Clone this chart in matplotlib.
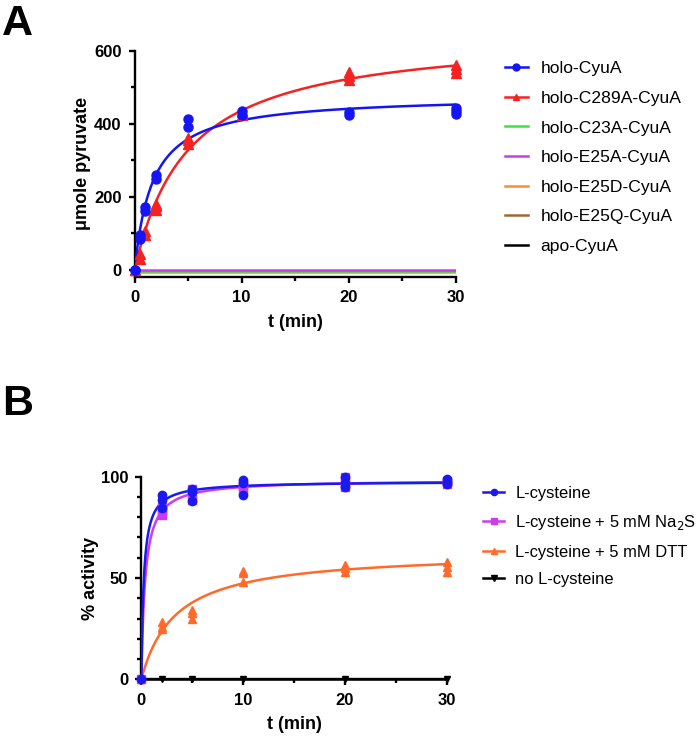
import numpy as np
import matplotlib
matplotlib.use("Agg")
import matplotlib.pyplot as plt

plt.rcParams['font.family'] = ['Liberation Sans', 'DejaVu Sans']

# ---- panel A data (umole pyruvate vs t) ----
t_a = [0, 0.5, 1, 2, 5, 10, 20, 30]
holo_cyua = [[0, 0], [84, 96], [160, 172], [248, 260], [392, 412],
             [424, 436], [424, 432], [428, 436, 442]]
holo_c289a = [[0, 0], [30, 42], [96, 106], [165, 175, 180], [345, 355, 360],
              [425, 432], [520, 530, 542], [538, 550, 560]]
flat_names = ['holo-C23A-CyuA', 'holo-E25A-CyuA', 'holo-E25D-CyuA',
              'holo-E25Q-CyuA', 'apo-CyuA']
flat_levels = [-3.5, 0, -6.5, -3.5, -3.5]
flat_colors = ['#3ee23e', '#c83cf0', '#ff8a30', '#9a6a30', '#000000']

# ---- panel B data (% activity vs t) ----
t_b = [0, 2, 5, 10, 20, 30]
lcys = [[0], [91, 88.5, 84.5], [93.7, 92.6, 88], [98.4, 97, 91],
        [100, 96.7, 94.7], [98.7, 97.5, 96.4]]
lcys_na2s = [[0], [85, 81, 83], [93.7, 88.5, 91], [96, 93.4, 95],
             [99.7, 94.7, 97], [98, 96.4, 97.5]]
lcys_dtt = [[0], [28.5, 26, 24.7], [34.2, 32.6, 30], [53.6, 52.3, 48.2],
            [56.4, 54.8, 53.1], [58, 55.6, 53]]
no_lcys = [[0], [0], [0], [0], [0], [0]]


def flatten(t, reps):
    xs, ys = [], []
    for ti, r in zip(t, reps):
        for v in r:
            xs.append(ti)
            ys.append(v)
    return np.array(xs, float), np.array(ys, float)


def hyperbola_fit(xs, ys):
    # y = ymax * t / (k + t), grid search on k, ymax by least squares
    best = None
    for k in np.linspace(0.01, 20, 4000):
        g = xs / (k + xs)
        ymax = np.dot(g, ys) / max(np.dot(g, g), 1e-12)
        err = np.sum((ys - ymax * g) ** 2)
        if best is None or err < best[0]:
            best = (err, k, ymax)
    return best[1], best[2]


def plot_series(ax, t, reps, color, marker, ms, label, z=4):
    xs, ys = flatten(t, reps)
    k, ymax = hyperbola_fit(xs, ys)
    tt = np.linspace(0, max(t), 300)
    ax.plot(tt, ymax * tt / (k + tt), color=color, lw=1.8, zorder=3)
    ax.plot(xs, ys, ls='none', marker=marker, color=color, ms=ms, zorder=z,
            clip_on=False)
    ax.plot([], [], color=color, marker=marker, ms=ms - 1.5, lw=1.8, label=label)


def style_axes(ax):
    for s in ['top', 'right']:
        ax.spines[s].set_visible(False)
    for s in ['left', 'bottom']:
        ax.spines[s].set_linewidth(1.7)
    ax.tick_params(which='major', width=1.7, length=4.5, labelsize=12, pad=5)
    ax.tick_params(which='minor', width=1.7, length=3)
    for lab in ax.get_xticklabels() + ax.get_yticklabels():
        lab.set_fontweight('bold')
    ax.set_xlim(0, 30)
    ax.set_xticks([0, 10, 20, 30])
    ax.set_xticks([5, 15, 25], minor=True)
    ax.set_xlabel('t (min)', fontsize=13, fontweight='bold', labelpad=6)


fig = plt.figure(figsize=(7, 7.36), dpi=100)

# ---- panel A ----
axA = fig.add_axes([0.1924, 0.6236, 0.4586, 0.3074])
plot_series(axA, t_a, holo_c289a, '#f52222', '^', 6.5, 'holo-C289A-CyuA', z=4)
plot_series(axA, t_a, holo_cyua, '#1414f5', 'o', 6.5, 'holo-CyuA', z=5)
flat_z = [2.6, 2.8, 2.4, 2.2, 2.0]
for name, lvl, c, z in zip(flat_names, flat_levels, flat_colors, flat_z):
    axA.plot([t_a[0], t_a[-1]], [lvl, lvl], color=c, lw=1.8, label=name, zorder=z)
axA.set_ylim(-20, 600)
axA.set_yticks([0, 200, 400, 600])
axA.set_yticks([100, 300, 500], minor=True)
axA.set_ylabel('μmole pyruvate', fontsize=13, fontweight='bold', labelpad=2)
style_axes(axA)
hA, lA = axA.get_legend_handles_labels()
order = [1, 0, 2, 3, 4, 5, 6]
axA.legend([hA[i] for i in order], [lA[i] for i in order],
           loc='upper left', bbox_to_anchor=(0.7214, 0.917),
           bbox_transform=fig.transFigure, frameon=False, borderpad=0,
           borderaxespad=0, fontsize=12.6, handlelength=1.3,
           labelspacing=0.82, handletextpad=0.74)

# ---- panel B ----
axB = fig.add_axes([0.2019, 0.077, 0.4361, 0.2753])
plot_series(axB, t_b, lcys_dtt, '#ff6a2a', '^', 6, 'L-cysteine + 5 mM DTT', z=4)
plot_series(axB, t_b, lcys_na2s, '#cc3cee', 's', 6, 'L-cysteine + 5 mM Na$_2$S', z=5)
plot_series(axB, t_b, lcys, '#1a1aee', 'o', 6, 'L-cysteine', z=6)
xs, ys = flatten(t_b, no_lcys)
axB.plot(xs, ys, color='black', lw=1.8, marker='v', ms=5, ls='-', zorder=4,
         clip_on=False, label='no L-cysteine')
axB.set_ylim(0, 100)
axB.set_yticks([0, 50, 100])
axB.set_yticks([10, 20, 30, 40, 60, 70, 80, 90], minor=True)
axB.set_ylabel('% activity', fontsize=13, fontweight='bold', labelpad=1)
style_axes(axB)
hB, lB = axB.get_legend_handles_labels()
order = [2, 1, 0, 3]
axB.legend([hB[i] for i in order], [lB[i] for i in order],
           loc='upper left', bbox_to_anchor=(0.69, 0.340),
           bbox_transform=fig.transFigure, frameon=False, borderpad=0,
           borderaxespad=0, fontsize=11.9, handlelength=1.3,
           labelspacing=0.75, handletextpad=0.65)

fig.text(0.003, 0.995, 'A', fontsize=31, fontweight='bold', va='top', ha='left')
fig.text(0.003, 0.478, 'B', fontsize=31, fontweight='bold', va='top', ha='left')

fig.savefig('out.png', dpi=100)
